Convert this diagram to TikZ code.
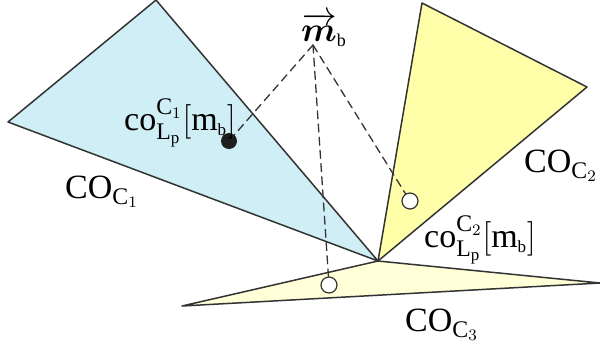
\documentclass[tikz,border=0pt]{standalone}
\usepackage{amsmath}
\usepackage{bm}
\usepackage{fontspec}
\setmainfont{Liberation Serif}
\definecolor{conoblu}{HTML}{CFEEF5}
\definecolor{conogiallo}{HTML}{FFFFAA}
\definecolor{conochiaro}{HTML}{FFFFD8}
\definecolor{bordo}{HTML}{333333}
\begin{document}
\begin{tikzpicture}[x=0.5pt, y=-0.5pt, line cap=round, line join=round,
  cono/.style={draw=bordo, line width=0.75pt},
  proiez/.style={draw=bordo, line width=0.65pt, dash pattern=on 4pt off 2.6pt},
  pieno/.style={circle, fill=black!88, inner sep=0pt, minimum size=8pt},
  vuoto/.style={circle, draw=bordo, fill=white, line width=0.6pt, inner sep=0pt, minimum width=8pt, minimum height=7pt},
  etich/.style={inner sep=0pt, font=\fontsize{17}{20}\selectfont}]

\useasboundingbox (0,0) rectangle (600,350);

% vertice comune dei coni
\coordinate (O) at (378,261);

% cono C1
\coordinate (A1) at (8,122);
\coordinate (B1) at (156,0);
\filldraw[cono, fill=conoblu] (A1) -- (B1) -- (O) -- cycle;

% cono C2
\coordinate (A2) at (422,3);
\coordinate (B2) at (587,87);
\filldraw[cono, fill=conogiallo] (O) -- (A2) -- (B2) -- cycle;

% cono C3
\coordinate (A3) at (182,306);
\coordinate (B3) at (600,283);
\filldraw[cono, fill=conochiaro] (O) -- (A3) -- (B3) -- cycle;

% vettore m_b e proiezioni
\coordinate (M) at (313,45);
\node[etich, font=\fontsize{18}{21}\selectfont] (mb) at (324,30) {$\overrightarrow{\bm{m}}_{\scriptscriptstyle\mathrm{b}}$};

\node[pieno] (p1) at (229,141) {};
\node[vuoto] (p2) at (410,201) {};
\node[vuoto] (p3) at (329,285) {};

\draw[proiez] (M) -- (p1);
\draw[proiez] (M) -- (p2);
\draw[proiez] (M) -- (p3);

% etichette
\node[etich] (co1) at (180,123) {$\mathrm{co}^{\mathrm{C}_1}_{\mathrm{L}_{\mathrm{p}}}[\mathrm{m}_{\scriptscriptstyle\mathrm{b}}]$};
\node[etich] (co2) at (480,240) {$\mathrm{co}^{\mathrm{C}_2}_{\mathrm{L}_{\mathrm{p}}}[\mathrm{m}_{\scriptscriptstyle\mathrm{b}}]$};
\node[etich] (C1) at (102,192) {$\mathrm{CO}_{\mathrm{C}_1}$};
\node[etich] (C2) at (561,166) {$\mathrm{CO}_{\mathrm{C}_2}$};
\node[etich] (C3) at (442,325) {$\mathrm{CO}_{\mathrm{C}_3}$};

\end{tikzpicture}
\end{document}
